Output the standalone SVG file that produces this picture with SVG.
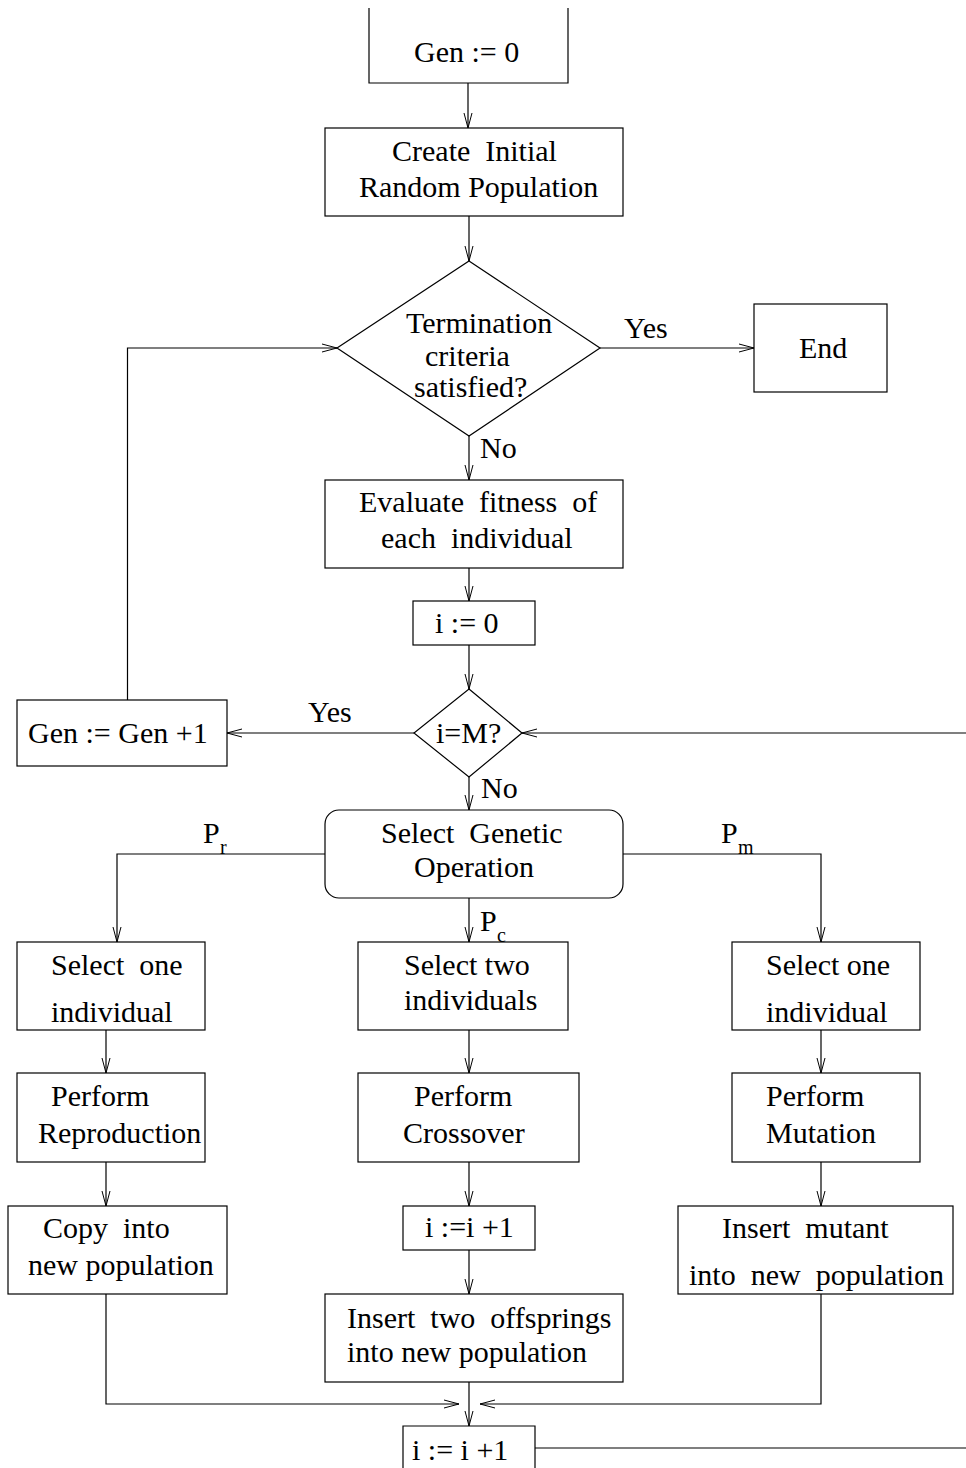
<svg xmlns="http://www.w3.org/2000/svg" width="966" height="1468" viewBox="0 0 966 1468" xml:space="preserve">
<defs>
<marker id="arr" markerUnits="userSpaceOnUse" markerWidth="20" markerHeight="12" refX="16" refY="5" orient="auto" viewBox="0 0 20 12">
<path d="M1 1 L16 5 L1 9" fill="none" stroke="#000" stroke-width="1"/>
</marker>
<style>
.s{fill:#fff;stroke:#000;stroke-width:1.2}
.c{fill:none;stroke:#000;stroke-width:1.2}
.ca{fill:none;stroke:#000;stroke-width:1.2;marker-end:url(#arr)}
text{font-family:"Liberation Serif","Times New Roman",serif;font-size:30px;fill:#000;white-space:pre}
.sub{font-size:20px}
</style>
</defs>
<rect width="966" height="1468" fill="#fff"/>
<g id="connectors">
<line class="ca" x1="468" y1="83" x2="468" y2="128"/>
<line class="ca" x1="469" y1="216" x2="469" y2="261"/>
<line class="ca" x1="600" y1="348" x2="754" y2="348"/>
<line class="ca" x1="469" y1="436" x2="469" y2="480"/>
<line class="ca" x1="469" y1="568" x2="469" y2="601"/>
<line class="ca" x1="469" y1="645" x2="469" y2="689"/>
<line class="ca" x1="414" y1="733" x2="227" y2="733"/>
<line class="ca" x1="966" y1="733" x2="522" y2="733"/>
<polyline class="ca" points="127.5,700 127.5,348 337,348"/>
<line class="ca" x1="469" y1="777" x2="469" y2="810"/>
<polyline class="ca" points="325,854 117,854 117,942"/>
<polyline class="ca" points="623,854 821,854 821,942"/>
<line class="ca" x1="469" y1="898" x2="469" y2="942"/>
<line class="ca" x1="106" y1="1030" x2="106" y2="1073"/>
<line class="ca" x1="469" y1="1030" x2="469" y2="1073"/>
<line class="ca" x1="821" y1="1030" x2="821" y2="1073"/>
<line class="ca" x1="106" y1="1162" x2="106" y2="1206"/>
<line class="ca" x1="469" y1="1162" x2="469" y2="1206"/>
<line class="ca" x1="821" y1="1162" x2="821" y2="1206"/>
<line class="ca" x1="469" y1="1250" x2="469" y2="1294"/>
<polyline class="ca" points="106,1294 106,1404 459,1404"/>
<polyline class="ca" points="821,1294 821,1404 480,1404"/>
<line class="ca" x1="469" y1="1382" x2="469" y2="1426"/>
<line class="c" x1="535" y1="1448" x2="966" y2="1448"/>
</g>
<g id="n_gen0">
<polyline class="c" points="369,8 369,83 568,83 568,8"/>
<text x="414" y="62">Gen := 0</text>
</g>
<g id="n_create">
<rect class="s" x="325" y="128" width="298" height="88"/>
<text x="392" y="161">Create  Initial</text>
<text x="359" y="197">Random Population</text>
</g>
<g id="n_term">
<polygon class="s" points="469,261 600,348 469,436 337,348"/>
<text x="406" y="333">Termination</text>
<text x="425" y="366">criteria</text>
<text x="414" y="397">satisfied?</text>
</g>
<g id="lbl_yes1"><text x="624" y="338">Yes</text></g>
<g id="lbl_no1"><text x="480" y="458">No</text></g>
<g id="n_end">
<rect class="s" x="754" y="304" width="133" height="88"/>
<text x="799" y="358">End</text>
</g>
<g id="n_eval">
<rect class="s" x="325" y="480" width="298" height="88"/>
<text x="359" y="512">Evaluate  fitness  of</text>
<text x="381" y="548">each  individual</text>
</g>
<g id="n_i0">
<rect class="s" x="413" y="601" width="122" height="44"/>
<text x="435" y="633">i := 0</text>
</g>
<g id="n_iM">
<polygon class="s" points="469,689 522,733 469,777 414,733"/>
<text x="436" y="743">i=M?</text>
</g>
<g id="lbl_yes2"><text x="308" y="722">Yes</text></g>
<g id="lbl_no2"><text x="481" y="798">No</text></g>
<g id="n_genInc">
<rect class="s" x="17" y="700" width="210" height="66"/>
<text x="28" y="743">Gen := Gen +1</text>
</g>
<g id="n_select">
<rect class="s" x="325" y="810" width="298" height="88" rx="14" ry="14"/>
<text x="381" y="843">Select  Genetic</text>
<text x="414" y="877">Operation</text>
</g>
<g id="lbl_pr"><text x="203" y="843">P</text><text class="sub" x="220" y="854">r</text></g>
<g id="lbl_pm"><text x="721" y="843">P</text><text class="sub" x="738" y="854">m</text></g>
<g id="lbl_pc"><text x="480" y="931">P</text><text class="sub" x="497" y="942">c</text></g>
<g id="n_sel1">
<rect class="s" x="17" y="942" width="188" height="88"/>
<text x="51" y="975">Select  one</text>
<text x="51" y="1022">individual</text>
</g>
<g id="n_sel2">
<rect class="s" x="358" y="942" width="210" height="88"/>
<text x="404" y="975">Select two</text>
<text x="404" y="1010">individuals</text>
</g>
<g id="n_sel3">
<rect class="s" x="732" y="942" width="188" height="88"/>
<text x="766" y="975">Select one</text>
<text x="766" y="1022">individual</text>
</g>
<g id="n_repro">
<rect class="s" x="17" y="1073" width="188" height="89"/>
<text x="51" y="1106">Perform</text>
<text x="38" y="1143">Reproduction</text>
</g>
<g id="n_cross">
<rect class="s" x="358" y="1073" width="221" height="89"/>
<text x="414" y="1106">Perform</text>
<text x="403" y="1143">Crossover</text>
</g>
<g id="n_mut">
<rect class="s" x="732" y="1073" width="188" height="89"/>
<text x="766" y="1106">Perform</text>
<text x="766" y="1143">Mutation</text>
</g>
<g id="n_copy">
<rect class="s" x="8" y="1206" width="219" height="88"/>
<text x="43" y="1238">Copy  into</text>
<text x="28" y="1275">new population</text>
</g>
<g id="n_iinc1">
<rect class="s" x="403" y="1206" width="132" height="44"/>
<text x="425" y="1237">i :=i +1</text>
</g>
<g id="n_insmut">
<rect class="s" x="678" y="1206" width="275" height="88"/>
<text x="722" y="1238">Insert  mutant</text>
<text x="689" y="1285">into  new  population</text>
</g>
<g id="n_insoff">
<rect class="s" x="325" y="1294" width="298" height="88"/>
<text x="347" y="1328">Insert  two  offsprings</text>
<text x="347" y="1362">into new population</text>
</g>
<g id="n_iinc2">
<polyline class="c" points="403,1468 403,1426 535,1426 535,1468"/>
<text x="412" y="1460">i := i +1</text>
</g>
</svg>
